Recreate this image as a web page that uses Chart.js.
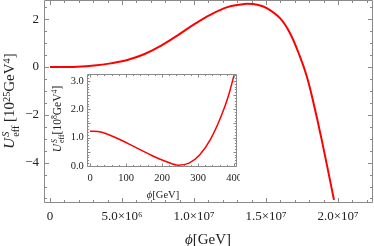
<!DOCTYPE html>
<html>
<head>
<meta charset="utf-8">
<script src="https://cdn.jsdelivr.net/npm/chart.js@4"></script>
<style>
html,body{margin:0;padding:0;background:#fff;}
#wrap{position:relative;width:374px;height:246px;overflow:hidden;font-family:'Liberation Serif','DejaVu Serif',serif;color:#222;}
canvas{position:absolute;}
#main{left:0;top:0;}
#inset{left:60px;top:70px;}
.lab{position:absolute;white-space:nowrap;line-height:1;transform:translate(-50%,-50%);}
.rot{transform:translate(-50%,-50%) rotate(-90deg);}
.ss{display:inline-block;vertical-align:middle;font-size:0.68em;line-height:0.95;text-align:left;margin-left:1px;}
.ss span{display:block;}
sup{font-size:0.68em;vertical-align:0.45em;line-height:0;}
</style>
</head>
<body>
<div id="wrap">
<canvas id="main" width="374" height="246"></canvas>
<canvas id="inset" width="180" height="132"></canvas>
<div class="lab rot" style="left:11px;top:101px;font-size:15px;"><i>U</i><span class="ss"><span><i>S</i></span><span>eff</span></span> [10<sup>25</sup>GeV<sup>4</sup>]</div>
<div class="lab" style="left:208px;top:239px;font-size:15px;"><i>ϕ</i>[GeV]</div>
<div class="lab rot" style="left:58px;top:119px;font-size:11.5px;"><i>U</i><span class="ss"><span><i>S</i></span><span>eff</span></span>[10<sup>8</sup>GeV<sup>4</sup>]</div>
<div class="lab" style="left:163px;top:195px;font-size:10.5px;"><i>ϕ</i>[GeV]</div>
</div>
<script>
// ---- main plot data (phi in units of 1e6 GeV, U in 1e25 GeV^4)
const mainPhi = [0, 1.0, 1.9, 3.06, 4.2, 5.37, 6.53, 7.69, 8.84, 10.0, 11.16, 12.31, 13.24, 13.68, 14.4, 15.05, 15.97, 16.67, 17.36, 17.83, 18.24, 18.87, 19.72];
const mainU   = [0, 0.002, 0.012, 0.06, 0.15, 0.29, 0.53, 0.88, 1.31, 1.78, 2.19, 2.50, 2.61, 2.64, 2.60, 2.46, 2.04, 1.41, 0.43, -0.39, -1.35, -3.05, -5.56];
const mainXTicks = [0, 5, 10, 15, 20];
const mainXTickLabels = ['0', '5.0×10⁶', '1.0×10⁷', '1.5×10⁷', '2.0×10⁷'];
const mainYTicks = [-4, -2, 0, 2];

// ---- inset data (phi in GeV, U in 1e8 GeV^4)
const insetPhi = [0, 30, 75, 120, 170, 215, 245, 275, 305, 335, 365, 385, 400];
const insetU   = [1.23, 1.20, 0.98, 0.70, 0.38, 0.14, 0.03, 0.10, 0.40, 0.95, 1.78, 2.50, 3.20];
const insetXTicks = [0, 100, 200, 300, 400];
const insetYTicks = [0, 0.5, 1.0, 1.5, 2.0, 2.5, 3.0];

Chart.defaults.font.family = "'Liberation Serif','DejaVu Serif',serif";
Chart.defaults.color = '#222';

function range(a, b, s) { const r = []; for (let v = a; v <= b + 1e-9; v += s) r.push(Math.round(v * 1000) / 1000); return r; }

const framePlugin = {
  id: 'frame',
  afterDraw(chart, args, o) {
    const { ctx, chartArea: a, scales: { x, y } } = chart;
    const L = Math.round(a.left) + 0.5, R = Math.round(a.right) - 0.5, T = Math.round(a.top) + 0.5, B = Math.round(a.bottom) - 0.5;
    ctx.save();
    ctx.strokeStyle = o.color; ctx.lineWidth = 1;
    ctx.beginPath();
    ctx.rect(L, T, R - L, B - T);
    const xt = (vals, len) => vals.forEach(v => {
      if (v < x.min || v > x.max) return;
      const p = Math.round(x.getPixelForValue(v)) + 0.5;
      ctx.moveTo(p, B); ctx.lineTo(p, B - len);
      ctx.moveTo(p, T); ctx.lineTo(p, T + len);
    });
    const yt = (vals, len) => vals.forEach(v => {
      if (v < y.min || v > y.max) return;
      const p = Math.round(y.getPixelForValue(v)) + 0.5;
      ctx.moveTo(L, p); ctx.lineTo(L + len, p);
      ctx.moveTo(R, p); ctx.lineTo(R - len, p);
    });
    xt(o.xMajor, o.major); xt(o.xMinor, o.minor);
    yt(o.yMajor, o.major); yt(o.yMinor, o.minor);
    ctx.stroke();
    ctx.restore();
  }
};

const noPadX = h => s => { s.height = h; s.paddingLeft = 0; s.paddingRight = 0; };
const noPadY = w => s => { s.width = w; s.paddingTop = 0; s.paddingBottom = 0; };

new Chart(document.getElementById('main'), {
  type: 'line',
  data: { datasets: [{ data: mainPhi.map((v, i) => ({ x: v, y: mainU[i] })), borderColor: '#ff0000', borderWidth: 2, pointRadius: 0, tension: 0.35, fill: false }] },
  options: {
    responsive: false, animation: false, events: [],
    layout: { padding: { left: 0, top: 0, right: 1, bottom: 0 } },
    plugins: {
      legend: { display: false }, tooltip: { enabled: false },
      frame: { color: '#8a8a8a', major: 4.5, minor: 2.5, xMajor: mainXTicks, xMinor: range(0, 22, 1), yMajor: mainYTicks, yMinor: range(-5.5, 2.5, 0.5) }
    },
    scales: {
      x: {
        type: 'linear', min: -0.4167, max: 22.43,
        grid: { display: false, drawTicks: false }, border: { display: false },
        afterBuildTicks: s => { s.ticks = mainXTicks.map(v => ({ value: v })); },
        afterFit: noPadX(43),
        ticks: { padding: 6, maxRotation: 0, autoSkip: false, font: { size: 13 }, color: '#222',
          callback: v => mainXTickLabels[mainXTicks.indexOf(v)] }
      },
      y: {
        type: 'linear', min: -5.69, max: 2.8,
        grid: { display: false, drawTicks: false }, border: { display: false },
        afterBuildTicks: s => { s.ticks = mainYTicks.map(v => ({ value: v })); },
        afterFit: noPadY(44),
        ticks: { padding: 5, font: { size: 13 }, color: '#222', callback: v => (v < 0 ? '−' + Math.abs(v) : String(v)) }
      }
    }
  },
  plugins: [framePlugin]
});

new Chart(document.getElementById('inset'), {
  type: 'line',
  data: { datasets: [{ data: insetPhi.map((v, i) => ({ x: v, y: insetU[i] })), borderColor: '#ff0000', borderWidth: 1.5, pointRadius: 0, cubicInterpolationMode: 'monotone', fill: false }] },
  options: {
    responsive: false, animation: false, events: [],
    layout: { padding: { left: 0, top: 4, right: 3.5, bottom: 0 } },
    plugins: {
      legend: { display: false }, tooltip: { enabled: false },
      frame: { color: '#8a8a8a', major: 3, minor: 1.6, xMajor: insetXTicks, xMinor: range(0, 400, 20), yMajor: insetYTicks, yMinor: range(0, 3.2, 0.1) }
    },
    scales: {
      x: {
        type: 'linear', min: -7.5, max: 406.9,
        grid: { display: false, drawTicks: false }, border: { display: false },
        afterBuildTicks: s => { s.ticks = insetXTicks.map(v => ({ value: v })); },
        afterFit: noPadX(35.5),
        ticks: { padding: 5, maxRotation: 0, autoSkip: false, font: { size: 10.5 }, color: '#222' }
      },
      y: {
        type: 'linear', min: -0.018, max: 3.247,
        grid: { display: false, drawTicks: false }, border: { display: false },
        afterBuildTicks: s => { s.ticks = insetYTicks.map(v => ({ value: v })); },
        afterFit: noPadY(27.3),
        ticks: { padding: 3.5, font: { size: 10.5 }, color: '#222', callback: v => v.toFixed(1) }
      }
    }
  },
  plugins: [framePlugin]
});
</script>
</body>
</html>
